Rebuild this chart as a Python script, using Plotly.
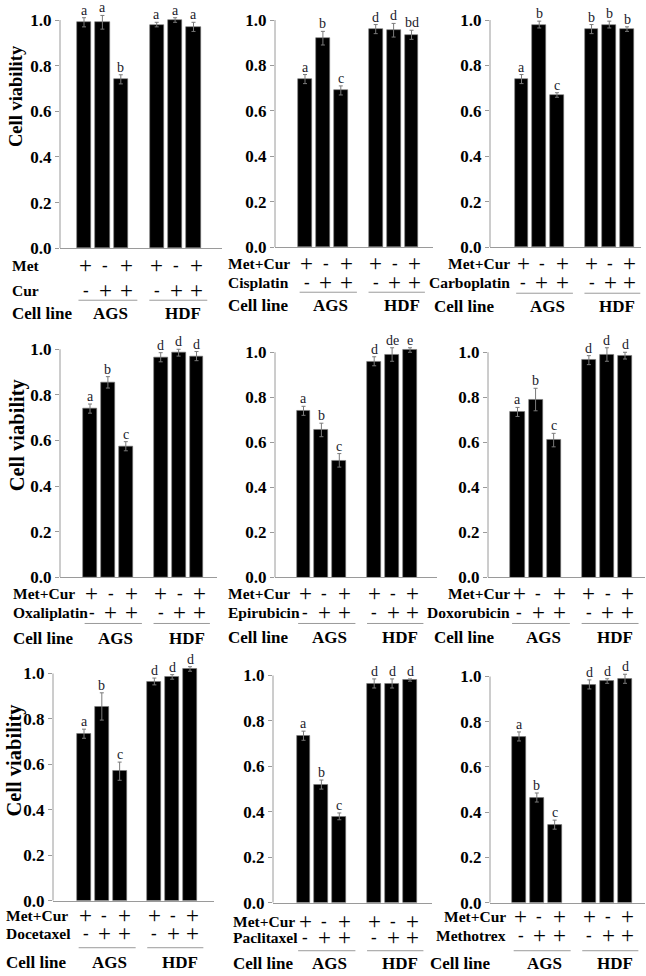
import plotly.graph_objects as go

W, H = 646, 976
SERIF = "Liberation Serif"

# ---------------- data ----------------
cell_lines = ["AGS", "HDF"]
treat_a_signs = ["+", "-", "+", "+", "-", "+"]
treat_b_signs = ["-", "+", "+", "-", "+", "+"]
tick_vals = [0.0, 0.2, 0.4, 0.6, 0.8, 1.0]
tick_text = ["0.0", "0.2", "0.4", "0.6", "0.8", "1.0"]

row_a_labels = ["Met", "Met+Cur", "Met+Cur", "Met+Cur", "Met+Cur", "Met+Cur", "Met+Cur", "Met+Cur", "Met+Cur"]
row_b_labels = ["Cur", "Cisplatin", "Carboplatin", "Oxaliplatin", "Epirubicin", "Doxorubicin", "Docetaxel", "Paclitaxel", "Methotrex"]

viab_cur = [0.99, 0.99, 0.74, 0.98, 1.00, 0.97]
err_cur = [0.02, 0.03, 0.02, 0.01, 0.01, 0.02]
let_cur = ["a", "a", "b", "a", "a", "a"]

viab_cis = [0.74, 0.92, 0.69, 0.96, 0.955, 0.935]
err_cis = [0.02, 0.03, 0.02, 0.02, 0.03, 0.02]
let_cis = ["a", "b", "c", "d", "d", "bd"]

viab_carbo = [0.74, 0.98, 0.67, 0.96, 0.98, 0.96]
err_carbo = [0.02, 0.015, 0.01, 0.02, 0.015, 0.01]
let_carbo = ["a", "b", "c", "b", "b", "b"]

viab_oxa = [0.74, 0.855, 0.575, 0.965, 0.985, 0.97]
err_oxa = [0.02, 0.025, 0.02, 0.02, 0.015, 0.02]
let_oxa = ["a", "b", "c", "d", "d", "d"]

viab_epi = [0.74, 0.655, 0.52, 0.96, 0.99, 1.01]
err_epi = [0.02, 0.03, 0.03, 0.02, 0.03, 0.01]
let_epi = ["a", "b", "c", "d", "de", "e"]

viab_doxo = [0.735, 0.79, 0.61, 0.965, 0.99, 0.985]
err_doxo = [0.02, 0.05, 0.03, 0.02, 0.03, 0.015]
let_doxo = ["a", "b", "c", "d", "d", "d"]

viab_doce = [0.735, 0.855, 0.57, 0.965, 0.985, 1.02]
err_doce = [0.02, 0.06, 0.04, 0.015, 0.01, 0.01]
let_doce = ["a", "b", "c", "d", "d", "d"]

viab_pacli = [0.735, 0.52, 0.38, 0.965, 0.965, 0.98]
err_pacli = [0.02, 0.02, 0.015, 0.02, 0.02, 0.005]
let_pacli = ["a", "b", "c", "d", "d", "d"]

viab_mtx = [0.735, 0.465, 0.345, 0.965, 0.98, 0.99]
err_mtx = [0.02, 0.02, 0.02, 0.02, 0.01, 0.02]
let_mtx = ["a", "b", "c", "d", "d", "d"]

values = [viab_cur, viab_cis, viab_carbo, viab_oxa, viab_epi, viab_doxo, viab_doce, viab_pacli, viab_mtx]
errors = [err_cur, err_cis, err_carbo, err_oxa, err_epi, err_doxo, err_doce, err_pacli, err_mtx]
letters = [let_cur, let_cis, let_carbo, let_oxa, let_epi, let_doxo, let_doce, let_pacli, let_mtx]

# ---------------- layout geometry (pixels) ----------------
bar_pos = [0, 1, 2, 3.95, 4.95, 5.95]
sign_pos = [0.1, 1.15, 2.3, 3.95, 5.0, 6.1]
group_pos = [1.45, 5.4]
group_lines = [(-0.3, 2.9), (3.55, 6.7)]

# axis_x, first_bar, last_bar, right_end, y(1.0), y(0.0)
geo = [
    (60, 84, 193.5, 222, 20, 248),
    (275, 305, 411.5, 433, 20, 247),
    (490, 521.5, 627, 641, 20, 247),
    (60, 90, 196.5, 217, 349, 577),
    (275, 303.5, 410, 437, 352, 577),
    (488, 517.5, 625, 645, 352, 577),
    (53, 84, 190, 214, 673, 900),
    (273, 303.5, 410, 432, 675, 902),
    (490, 519, 625, 645, 676, 902),
]
# row A y, row B y, underline y, cell line y
table_y = [
    (265, 290, 300, 313),
    (263, 282, 292, 305),
    (263, 282, 293, 306),
    (593, 612, 623, 638),
    (593, 612, 623, 637),
    (593, 612, 623, 637),
    (915, 933, 947, 962),
    (921, 937, 950, 963),
    (916, 935, 950, 963),
]
# label anchor x, anchor side
label_x = [
    (10, "left"), (226, "left"), (512, "right"),
    (11, "left"), (226, "left"), (512, "right"),
    (4, "left"), (231, "left"), (508, "right"),
]
# y-title: center y, center x, font size
ytitle = [(96, 16, 18.5), (435, 17, 20.5), (760, 15, 20.5)]

fig = go.Figure()
annotations = []
shapes = []
GREY = "#9a9a9a"
K = 0.989  # vertical calibration of the photographed page


def px2x(p):
    return p / W


def px2y(p):
    return max(0.0, 1 - (p / K) / H)


for i in range(9):
    xa = "x" if i == 0 else f"x{i+1}"
    ya = "y" if i == 0 else f"y{i+1}"
    ax_x, first, last, right, y1, y0 = geo[i]
    u = (last - first) / (bar_pos[-1] - bar_pos[0])
    xr = [-(first - ax_x) / u, (right - first) / u]
    ytop = max(y1 - 0.1 * (y0 - y1), 0)
    ymax = 1 + (y1 - ytop) / (y0 - y1)

    fig.add_trace(go.Bar(
        x=bar_pos, y=values[i], width=0.78,
        marker=dict(color="black", line=dict(color="#777", width=0.6)),
        error_y=dict(type="data", array=errors[i], color="#7a7a7a", thickness=1, width=2),
        cliponaxis=False, showlegend=False, xaxis=xa, yaxis=ya,
        hoverinfo="y",
    ))

    xkey = "xaxis" if i == 0 else f"xaxis{i+1}"
    ykey = "yaxis" if i == 0 else f"yaxis{i+1}"
    fig.update_layout(**{
        xkey: dict(domain=[px2x(ax_x), px2x(right)], range=xr, anchor=ya,
                   showline=True, linecolor=GREY, linewidth=1, showticklabels=False,
                   ticks="", showgrid=False, zeroline=False, fixedrange=True),
        ykey: dict(domain=[px2y(y0), px2y(ytop)], range=[0, ymax], anchor=xa,
                   tickvals=tick_vals, ticktext=tick_text, ticks="outside", ticklen=4,
                   tickcolor=GREY, showline=False, showgrid=False, zeroline=False,
                   tickfont=dict(family=SERIF, size=17, color="black", weight="bold"),
                   fixedrange=True),
    })
    # y axis line up to 1.0
    shapes.append(dict(type="line", xref=f"{xa} domain", yref=ya, x0=0, x1=0, y0=0, y1=1.0,
                       line=dict(color=GREY, width=1)))

    # significance letters
    for j in range(6):
        annotations.append(dict(x=bar_pos[j], y=values[i][j] + errors[i][j], xref=xa, yref=ya,
                                text=letters[i][j], showarrow=False, yanchor="bottom", yshift=-2,
                                font=dict(family=SERIF, size=14, color="#1a1a2a")))

    ra, rb, ul, cl = table_y[i]
    lx, side = label_x[i]
    # row labels
    for txt, py in [(row_a_labels[i], ra), (row_b_labels[i], rb)]:
        annotations.append(dict(x=px2x(lx), y=px2y(py), xref="paper", yref="paper", text=txt,
                                showarrow=False, xanchor=side, yanchor="middle",
                                font=dict(family=SERIF, size=15.5, color="black", weight="bold")))
    annotations.append(dict(x=px2x(lx if side == "left" else lx - 80), y=px2y(cl), xref="paper", yref="paper",
                            text="Cell line", showarrow=False, xanchor="left", yanchor="middle",
                            font=dict(family=SERIF, size=17, color="black", weight="bold")))
    # signs
    for j in range(6):
        for sgn, py in [(treat_a_signs[j], ra), (treat_b_signs[j], rb)]:
            if sgn == "+":
                f = dict(family=SERIF, size=23, color="black")
            else:
                f = dict(family=SERIF, size=17, color="black", weight="bold")
            annotations.append(dict(x=sign_pos[j], y=px2y(py), xref=xa, yref="paper", text=sgn,
                                    showarrow=False, xanchor="center", yanchor="middle", font=f))
    # group underlines and names
    for g in range(2):
        x0, x1 = group_lines[g]
        shapes.append(dict(type="line", xref=xa, yref="paper", x0=x0, x1=x1,
                           y0=px2y(ul), y1=px2y(ul), line=dict(color=GREY, width=1)))
        annotations.append(dict(x=group_pos[g], y=px2y(cl), xref=xa, yref="paper", text=cell_lines[g],
                                showarrow=False, xanchor="center", yanchor="middle",
                                font=dict(family=SERIF, size=17, color="black", weight="bold")))

# y titles
for cy, cx, fs in ytitle:
    annotations.append(dict(x=px2x(cx), y=px2y(cy), xref="paper", yref="paper",
                            text="Cell viability", textangle=-90, showarrow=False,
                            xanchor="center", yanchor="middle",
                            font=dict(family=SERIF, size=fs, color="black", weight="bold")))

fig.update_layout(width=W, height=H, margin=dict(l=0, r=0, t=0, b=0),
                  paper_bgcolor="white", plot_bgcolor="white",
                  annotations=annotations, shapes=shapes, bargap=0)
fig.write_html("out.html", config={"displayModeBar": False},
               post_script="document.body.style.margin='0';document.body.style.overflow='hidden';")
